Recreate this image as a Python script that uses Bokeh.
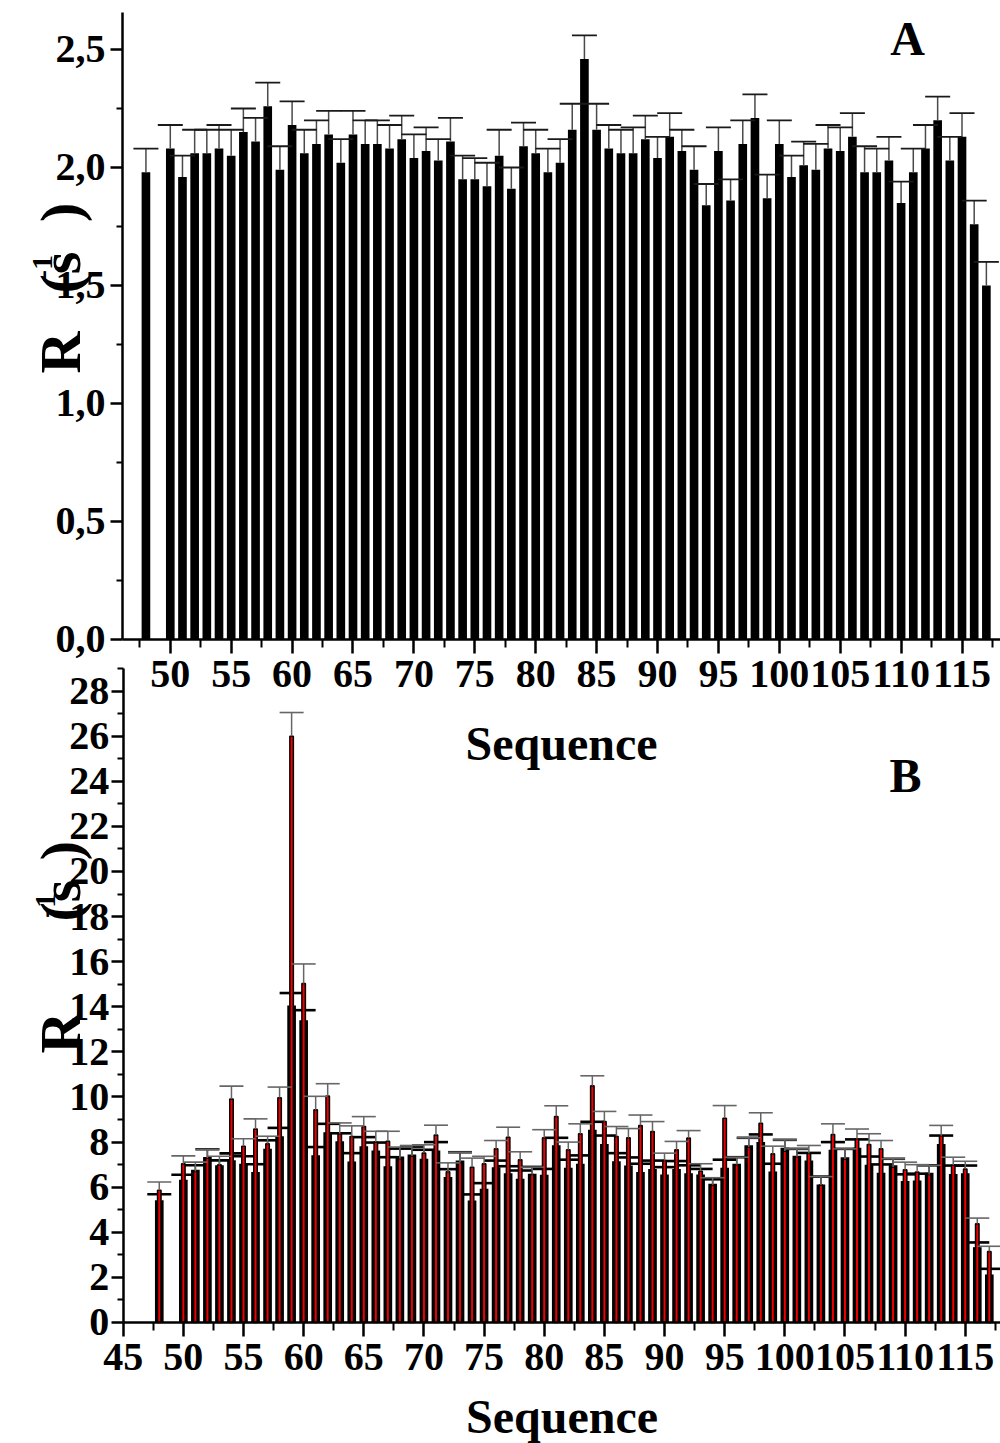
from math import pi

from bokeh.embed import file_html
from bokeh.models import (ColumnDataSource, CustomJSTickFormatter, FixedTicker,
                          Label, LinearAxis, Range1d)
from bokeh.plotting import figure
from bokeh.resources import INLINE

# residue numbers (49 has no data)
sequence = [48] + list(range(50, 118))

# panel A: R1 relaxation rates and their errors (s^-1)
r1 = [1.98,
      2.08, 1.96, 2.06, 2.06, 2.08, 2.05, 2.15, 2.11, 2.26, 1.99,
      2.18, 2.06, 2.10, 2.14, 2.02, 2.14, 2.10, 2.10, 2.08, 2.12,
      2.04, 2.07, 2.03, 2.11, 1.95, 1.95, 1.92, 2.05, 1.91, 2.09,
      2.06, 1.98, 2.02, 2.16, 2.46, 2.16, 2.08, 2.06, 2.06, 2.12,
      2.04, 2.13, 2.07, 1.99, 1.84, 2.07, 1.86, 2.10, 2.21, 1.87,
      2.10, 1.96, 2.01, 1.99, 2.08, 2.07, 2.13, 1.98, 1.98, 2.03,
      1.85, 1.98, 2.08, 2.20, 2.03, 2.13, 1.76, 1.50]
r1_err = [0.10,
          0.10, 0.09, 0.10, 0.10, 0.10, 0.11, 0.10, 0.10, 0.10, 0.10,
          0.10, 0.10, 0.10, 0.10, 0.10, 0.10, 0.10, 0.10, 0.10, 0.10,
          0.10, 0.10, 0.09, 0.10, 0.10, 0.09, 0.10, 0.11, 0.09, 0.10,
          0.10, 0.10, 0.10, 0.11, 0.10, 0.11, 0.10, 0.10, 0.11, 0.10,
          0.09, 0.10, 0.09, 0.10, 0.09, 0.10, 0.09, 0.10, 0.10, 0.10,
          0.10, 0.09, 0.10, 0.11, 0.10, 0.10, 0.10, 0.11, 0.10, 0.10,
          0.09, 0.10, 0.10, 0.10, 0.10, 0.10, 0.10, 0.10]

# panel B: R2 rates, two data sets (black and red) with errors (s^-1)
r2_black = [5.42,
            6.33, 6.77, 7.34, 6.97, 7.20, 7.04, 6.67, 7.71, 8.26, 14.06,
            13.40, 7.42, 8.44, 8.04, 7.14, 7.82, 7.63, 6.93, 7.36, 7.45,
            7.26, 7.63, 6.45, 7.18, 5.41, 5.93, 6.89, 6.62, 6.37, 6.60,
            6.55, 7.86, 6.86, 7.04, 8.55, 7.92, 7.15, 6.96, 6.67, 6.81,
            6.56, 6.81, 6.62, 6.56, 6.15, 6.86, 7.04, 7.86, 8.00, 6.70,
            7.75, 7.39, 7.18, 6.12, 7.66, 7.33, 7.75, 6.99, 6.64, 6.97,
            6.27, 6.30, 6.64, 7.92, 6.59, 6.62, 3.34, 2.13]
r2_black_err = [0.27,
                0.22, 0.20, 0.34, 0.22, 0.30, 0.33, 0.35, 0.37, 0.37, 0.55,
                0.45, 0.36, 0.37, 0.35, 0.37, 0.40, 0.35, 0.40, 0.35, 0.35,
                0.40, 0.37, 0.35, 0.37, 0.27, 0.25, 0.29, 0.31, 0.37, 0.30,
                0.26, 0.33, 0.36, 0.37, 0.35, 0.37, 0.36, 0.36, 0.37, 0.37,
                0.33, 0.35, 0.35, 0.25, 0.20, 0.36, 0.29, 0.33, 0.34, 0.34,
                0.35, 0.31, 0.34, 0.35, 0.34, 0.37, 0.37, 0.37, 0.37, 0.29,
                0.30, 0.30, 0.33, 0.37, 0.37, 0.34, 0.21, 0.25]
r2_red = [5.86,
          7.04, 6.70, 7.30, 7.00, 9.91, 7.82, 8.58, 7.93, 9.97, 26.00,
          15.03, 9.43, 10.04, 8.37, 8.25, 8.69, 8.00, 8.04, 7.26, 7.38,
          7.52, 8.31, 6.68, 7.10, 6.89, 7.04, 7.70, 8.22, 7.22, 6.56,
          8.19, 9.14, 7.66, 8.37, 10.50, 8.91, 8.25, 8.19, 8.74, 8.47,
          7.18, 7.66, 8.18, 6.71, 6.10, 9.06, 7.00, 7.78, 8.84, 7.48,
          7.60, 7.35, 7.51, 6.10, 8.34, 7.25, 8.15, 7.89, 7.70, 6.90,
          6.77, 6.67, 6.56, 8.28, 6.97, 6.81, 4.38, 3.15]
r2_red_err = [0.37,
              0.35, 0.41, 0.38, 0.37, 0.57, 0.33, 0.45, 0.33, 0.47, 1.05,
              0.87, 0.60, 0.55, 0.48, 0.47, 0.44, 0.48, 0.44, 0.52, 0.47,
              0.36, 0.44, 0.40, 0.45, 0.40, 0.33, 0.37, 0.44, 0.35, 0.33,
              0.36, 0.47, 0.34, 0.44, 0.44, 0.45, 0.44, 0.41, 0.46, 0.44,
              0.33, 0.37, 0.33, 0.33, 0.32, 0.56, 0.33, 0.41, 0.46, 0.34,
              0.50, 0.35, 0.34, 0.37, 0.47, 0.45, 0.43, 0.48, 0.37, 0.36,
              0.34, 0.33, 0.41, 0.46, 0.36, 0.34, 0.25, 0.23]

a_x_ticks = [50, 55, 60, 65, 70, 75, 80, 85, 90, 95, 100, 105, 110, 115]
b_x_ticks = [45] + a_x_ticks
x_minor = [47.5, 52.5, 57.5, 62.5, 67.5, 72.5, 77.5, 82.5, 87.5, 92.5,
           97.5, 102.5, 107.5, 112.5, 117.5]
a_y_ticks = [0.0, 0.5, 1.0, 1.5, 2.0, 2.5]
a_y_minor = [0.25, 0.75, 1.25, 1.75, 2.25]
b_y_ticks = [0, 2, 4, 6, 8, 10, 12, 14, 16, 18, 20, 22, 24, 26, 28]
b_y_minor = [1, 3, 5, 7, 9, 11, 13, 15, 17, 19, 21, 23, 25, 27, 29]

FONT = "Liberation Serif"

src_a = ColumnDataSource(dict(
    x=sequence, v=r1, cap=[v + e for v, e in zip(r1, r1_err)]))
src_b = ColumnDataSource(dict(
    x=sequence,
    kb=r2_black, kb_cap=[v + e for v, e in zip(r2_black, r2_black_err)],
    rd=r2_red, rd_cap=[v + e for v, e in zip(r2_red, r2_red_err)]))

# one canvas holds both panels: the frame fills the whole page, panel B
# uses the default ranges and panel A its own pair of extra ranges
p = figure(width=1000, height=1443,
           x_range=Range1d(34.80, 117.93), y_range=Range1d(-5.366, 58.625),
           x_axis_type=None, y_axis_type=None,
           output_backend="svg", toolbar_location=None,
           min_border_left=0, min_border_right=0,
           min_border_top=0, min_border_bottom=0)
p.outline_line_color = None
p.background_fill_color = "white"
p.extra_x_ranges = {"xa": Range1d(36.06, 118.16)}
p.extra_y_ranges = {"ya": Range1d(-3.4068, 2.7076)}


def style(ax, tick_out, minor_out):
    ax.axis_line_width = 2.5
    ax.axis_line_color = "black"
    ax.major_tick_line_width = 2.5
    ax.minor_tick_line_width = 2
    ax.major_tick_in = 0
    ax.minor_tick_in = 0
    ax.major_tick_out = tick_out
    ax.minor_tick_out = minor_out
    ax.major_label_text_font = FONT
    ax.major_label_text_font_style = "bold"
    ax.major_label_text_font_size = "40px"
    ax.major_label_text_color = "black"
    ax.axis_label_text_font = FONT
    ax.axis_label_text_font_style = "bold"
    ax.axis_label_text_font_size = "48px"
    ax.axis_label_text_color = "black"


# ---- panel A axes
ax_a_y = LinearAxis(x_range_name="xa", y_range_name="ya", fixed_location=46.08,
                    bounds=(0, 2.657),
                    ticker=FixedTicker(ticks=a_y_ticks, minor_ticks=a_y_minor),
                    formatter=CustomJSTickFormatter(
                        code="return tick.toFixed(1).replace('.', ',')"))
style(ax_a_y, 12, 6)
ax_a_y.major_label_standoff = 5
p.add_layout(ax_a_y, "left")

ax_a_x = LinearAxis(x_range_name="xa", y_range_name="ya", fixed_location=0,
                    bounds=(46.08, 118.16),
                    ticker=FixedTicker(ticks=a_x_ticks, minor_ticks=x_minor),
                    axis_label="Sequence")
style(ax_a_x, 14, 8)
ax_a_x.major_label_standoff = 8
ax_a_x.axis_label_standoff = 26
p.add_layout(ax_a_x, "below")

# ---- panel B axes
ax_b_y = LinearAxis(fixed_location=45, bounds=(0, 29),
                    ticker=FixedTicker(ticks=b_y_ticks, minor_ticks=b_y_minor))
style(ax_b_y, 12, 6)
ax_b_y.major_label_standoff = 2
p.add_layout(ax_b_y, "left")

ax_b_x = LinearAxis(fixed_location=0, bounds=(45, 117.93),
                    ticker=FixedTicker(ticks=b_x_ticks, minor_ticks=x_minor),
                    axis_label="Sequence")
style(ax_b_x, 14, 8)
ax_b_x.major_label_standoff = 8
ax_b_x.axis_label_standoff = 16
p.add_layout(ax_b_x, "below")

# ---- panel A bars with upper error bars
p.vbar(x="x", top="v", width=0.71, source=src_a, x_range_name="xa",
       y_range_name="ya", fill_color="black", line_color=None)
p.segment(x0="x", y0="v", x1="x", y1="cap", source=src_a, x_range_name="xa",
          y_range_name="ya", line_color="#4a4a4a", line_width=1.5)
p.scatter(x="x", y="cap", marker="dash", size=25, source=src_a,
          x_range_name="xa", y_range_name="ya", line_color="#1a1a1a",
          line_width=1.8)

# ---- panel B: black bars, their errors, then red bars on top
p.vbar(x="x", top="kb", width=0.72, source=src_b, fill_color="black",
       line_color=None)
p.segment(x0="x", y0="kb", x1="x", y1="kb_cap", source=src_b,
          line_color="black", line_width=1.5)
p.scatter(x="x", y="kb_cap", marker="dash", size=24, source=src_b,
          line_color="black", line_width=2.6)
p.vbar(x="x", top="rd", width=0.29, source=src_b, fill_color="#ee0000",
       line_color="black", line_width=1.5)
p.segment(x0="x", y0="rd", x1="x", y1="rd_cap", source=src_b,
          line_color="#666666", line_width=1.5)
p.scatter(x="x", y="rd_cap", marker="dash", size=24, source=src_b,
          line_color="#666666", line_width=1.6)


def text(x, y, s, size, rng=None, angle=0.0, baseline="alphabetic"):
    kw = dict(x=x, y=y, text=s, angle=angle, text_font=FONT,
              text_font_style="bold", text_font_size=size,
              text_align="center", text_baseline=baseline,
              text_color="black")
    if rng == "a":
        kw.update(x_range_name="xa", y_range_name="ya")
    p.add_layout(Label(**kw))


# y-axis titles
text(40.99, 1.216, "R", "58px", "a", pi / 2)
text(40.99, 1.555, "(s", "58px", "a", pi / 2)
text(40.99, 1.81, ")", "58px", "a", pi / 2)
text(39.51, 1.576, "-1", "30px", "a", pi / 2)

text(39.79, 12.86, "R", "58px", None, pi / 2)
text(39.79, 18.71, "(s", "58px", None, pi / 2)
text(39.79, 20.93, ")", "58px", None, pi / 2)
text(38.54, 18.49, "-1", "30px", None, pi / 2)

# panel letters
text(110.53, 2.547, "A", "48px", "a", baseline="middle")
text(110.03, 24.26, "B", "48px", None, baseline="middle")

open("out.html", "w").write(file_html(p, INLINE))
